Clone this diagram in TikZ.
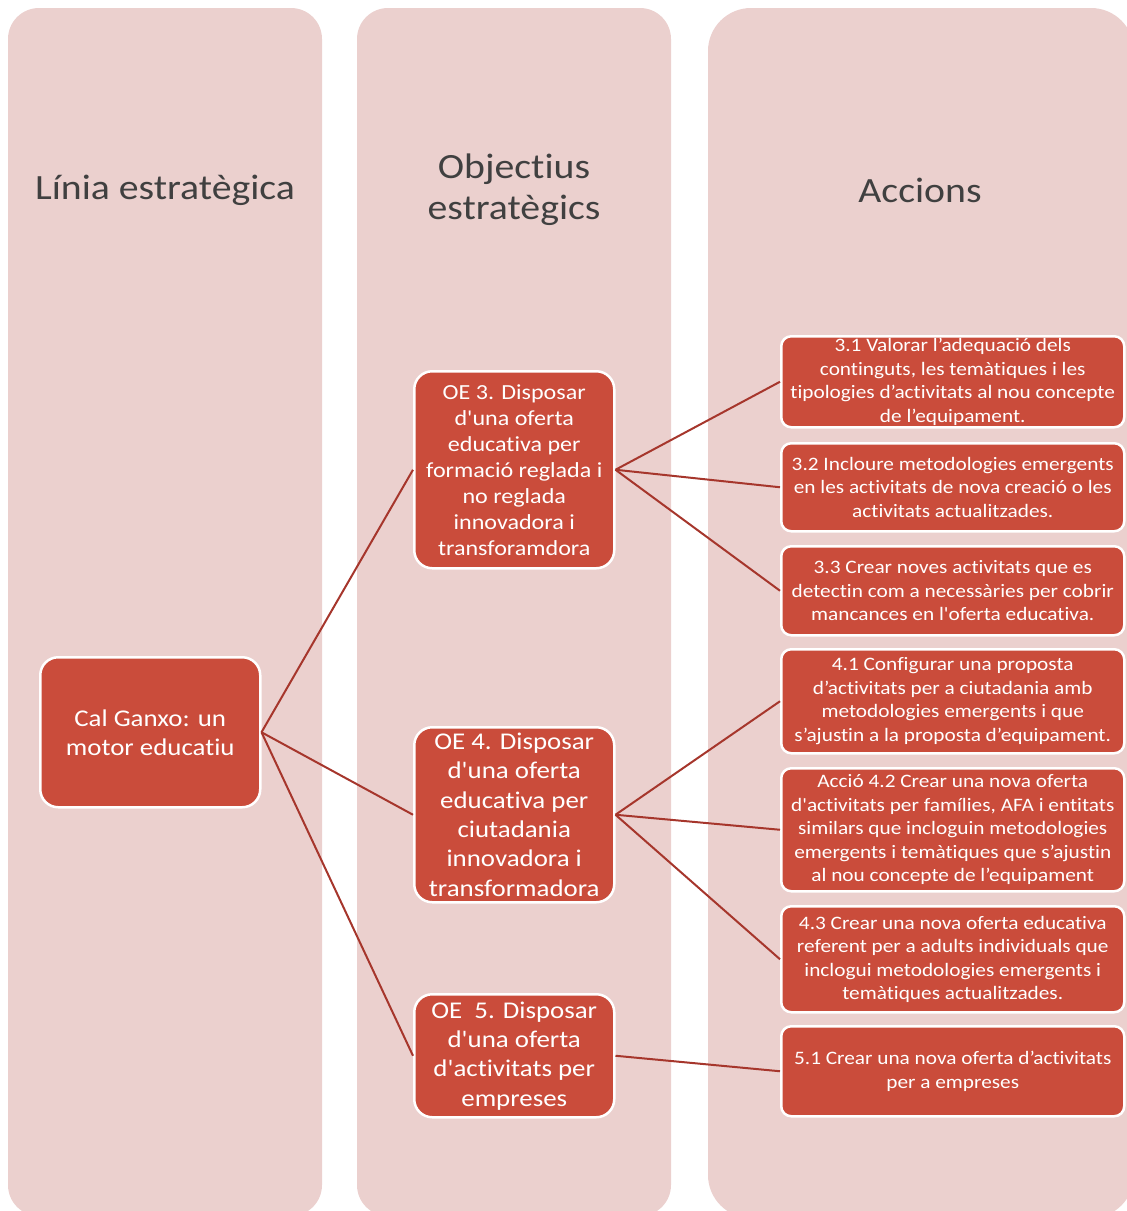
\documentclass[tikz,border=0pt]{standalone}
\usepackage{fontspec}
\setmainfont{Carlito}[FakeStretch=1.12,Ligatures={TeXOff,CommonOff}]
\definecolor{colbg}{RGB}{235,208,206}
\definecolor{boxred}{RGB}{202,76,59}
\definecolor{linkred}{RGB}{166,54,44}
\definecolor{headgray}{RGB}{64,64,64}
\begin{document}
\begin{tikzpicture}[x=1pt,y=-1pt,
  colbox/.style={fill=colbg},
  header/.style={align=center,text=headgray,font=\fontsize{35.5}{41}\selectfont,inner sep=0},
  redbox/.style={draw=white,line width=2.5pt,fill=boxred,text=white,align=center,inner sep=0,anchor=north west},
  mainbox/.style={redbox,rounded corners=18pt,font=\fontsize{24}{29}\selectfont},
  oebox/.style={redbox,rounded corners=18pt},
  actbox/.style={redbox,rounded corners=10pt,font=\fontsize{19}{23.5}\selectfont},
  link/.style={draw=linkred,line width=2pt}]
\useasboundingbox (0,0) rectangle (1127,1211);
% columns
\fill[colbox,rounded corners=31pt] (8,8) rectangle (322,1216);
\fill[colbox,rounded corners=31pt] (357,8) rectangle (671,1216);
\fill[colbox,rounded corners=43pt] (708,8) rectangle (1134,1218);
% headers
\node[header] (h1) at (165,190) {Línia estratègica};
\node[header] (h2) at (514,190) {Objectius\\estratègics};
\node[header] (h3) at (920,190) {Accions};
% main
\node[mainbox,minimum width=220pt,minimum height=150pt] (cal) at (39,656) {Cal Ganxo: un\\motor educatiu};
% objectives
\node[oebox,font=\fontsize{21.5}{26}\selectfont,minimum width=200pt,minimum height=197pt] (oe3) at (413,370)
  {OE 3. Disposar\\d'una oferta\\educativa per\\formació reglada i\\no reglada\\innovadora i\\transforamdora};
\node[oebox,font=\fontsize{24}{29.3}\selectfont,minimum width=200pt,minimum height=175pt] (oe4) at (413,726)
  {OE 4. Disposar\\d'una oferta\\educativa per\\ciutadania\\innovadora i\\transformadora};
\node[oebox,font=\fontsize{24}{29.3}\selectfont,minimum width=200pt,minimum height=123pt] (oe5) at (413,993)
  {OE\ \ 5. Disposar\\d'una oferta\\d'activitats per\\empreses};
% actions
\node[actbox,minimum width=343pt,minimum height=91pt] (a31) at (780,335)
  {3.1 Valorar l’adequació dels\\continguts, les temàtiques i les\\tipologies d’activitats al nou concepte\\de l’equipament.};
\node[actbox,minimum width=343pt,minimum height=88pt] (a32) at (780,442)
  {3.2 Incloure metodologies emergents\\en les activitats de nova creació o les\\activitats actualitzades.};
\node[actbox,minimum width=343pt,minimum height=89pt] (a33) at (780,545)
  {3.3 Crear noves activitats que es\\detectin com a necessàries per cobrir\\mancances en l'oferta educativa.};
\node[actbox,minimum width=343pt,minimum height=104pt] (a41) at (780,648)
  {4.1 Configurar una proposta\\d’activitats per a ciutadania amb\\metodologies emergents i que\\s’ajustin a la proposta d’equipament.};
\node[actbox,minimum width=343pt,minimum height=123pt] (a42) at (780,767)
  {Acció 4.2 Crear una nova oferta\\d'activitats per famílies, AFA i entitats\\similars que incloguin metodologies\\emergents i temàtiques que s’ajustin\\al nou concepte de l’equipament};
\node[actbox,minimum width=343pt,minimum height=106pt] (a43) at (780,905)
  {4.3 Crear una nova oferta educativa\\referent per a adults individuals que\\inclogui metodologies emergents i\\temàtiques actualitzades.};
\node[actbox,minimum width=343pt,minimum height=90pt] (a51) at (780,1025)
  {5.1 Crear una nova oferta d’activitats\\per a empreses};
% connectors
\draw[link] (cal.east) -- (oe3.west);
\draw[link] (cal.east) -- (oe4.west);
\draw[link] (cal.east) -- (oe5.west);
\draw[link] (oe3.east) -- (a31.west);
\draw[link] (oe3.east) -- (a32.west);
\draw[link] (oe3.east) -- (a33.west);
\draw[link] (oe4.east) -- (a41.west);
\draw[link] (oe4.east) -- (a42.west);
\draw[link] (oe4.east) -- (a43.west);
\draw[link] (oe5.east) -- (a51.west);
\end{tikzpicture}
\end{document}
